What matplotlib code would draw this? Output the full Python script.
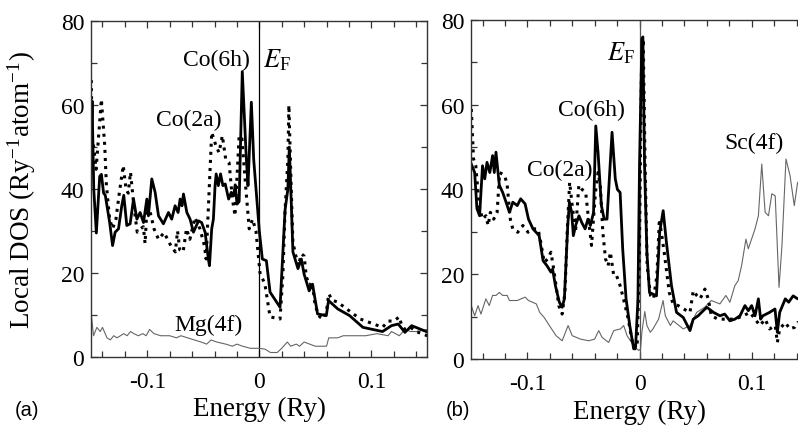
import matplotlib
matplotlib.use("Agg")
import matplotlib.pyplot as plt
from matplotlib.ticker import MultipleLocator

# ---- panel (a): Mg-based compound ----
a_co6h_e = [-0.150, -0.1493, -0.1478, -0.1455, -0.1425, -0.141, -0.139, -0.1375, -0.1336, -0.131,
            -0.1287, -0.1257, -0.1228, -0.121, -0.1183, -0.1153, -0.1123, -0.1093, -0.1064, -0.1034,
            -0.1004, -0.099, -0.096, -0.093, -0.090, -0.0856, -0.0811, -0.0782, -0.0752, -0.0725,
            -0.0707, -0.069, -0.0677, -0.0647, -0.0618, -0.0588, -0.0543, -0.0515, -0.0484, -0.0455,
            -0.0445, -0.0425, -0.041, -0.0395, -0.0385, -0.0366, -0.0346, -0.0325, -0.0304, -0.0274,
            -0.025, -0.0229, -0.0215, -0.0199, -0.018, -0.0152, -0.0116, -0.0101, -0.0071, -0.005,
            -0.0027, 0.0, 0.0027, 0.0063, 0.0096, 0.0185, 0.023, 0.0255, 0.0268, 0.0285,
            0.030, 0.0345, 0.0375, 0.040, 0.0445, 0.0475, 0.052, 0.0598, 0.0618, 0.070,
            0.0806, 0.0925, 0.110, 0.118, 0.124, 0.130, 0.136, 0.150]
a_co6h_dos = [52, 61, 40, 29.5, 43, 43.5, 39, 38.5, 32, 26.5,
              29.7, 30.5, 36, 38.5, 31.3, 31.7, 37.6, 32.8, 34.4, 32,
              37.6, 33.6, 42.4, 39.2, 33.6, 31.7, 34.4, 32.8, 36, 34.4,
              37.6, 36, 38.8, 34.4, 32.8, 29.7, 32.4, 32, 29.7, 23.3,
              21.7, 30.5, 32.8, 40.8, 43.6, 40.8, 43.6, 40.8, 41.2, 37.6,
              39.2, 38.4, 41, 36.4, 37, 68, 47.2, 40.8, 60.7, 47,
              39.2, 30, 23.3, 22.9, 15.4, 11.8, 35, 40, 50, 37,
              25, 21, 23.3, 19.7, 15.7, 17.3, 10.2, 9.8, 13.4, 11.4,
              9.8, 7.0, 6.0, 7.4, 7.8, 5.8, 7.4, 5.9]

a_co2a_e = [-0.150, -0.1493, -0.1478, -0.1457, -0.141, -0.138, -0.1365, -0.1336, -0.131, -0.128,
            -0.125, -0.1215, -0.119, -0.117, -0.115, -0.112, -0.109, -0.106, -0.1035, -0.102,
            -0.100, -0.097, -0.094, -0.090, -0.085, -0.079, -0.075, -0.073, -0.071, -0.068,
            -0.065, -0.062, -0.0575, -0.053, -0.049, -0.0475, -0.0446, -0.0425, -0.0387, -0.036,
            -0.033, -0.030, -0.027, -0.024, -0.0217, -0.018, -0.0155, -0.012, -0.009, -0.006,
            -0.003, 0.0006, 0.005, 0.0096, 0.0185, 0.021, 0.023, 0.0255, 0.0264, 0.0285,
            0.030, 0.0345, 0.0378, 0.040, 0.042, 0.045, 0.047, 0.050, 0.054, 0.057,
            0.060, 0.062, 0.065, 0.070, 0.080, 0.090, 0.100, 0.105, 0.110, 0.115,
            0.120, 0.125, 0.127, 0.130, 0.135, 0.140, 0.150]
a_co2a_dos = [66, 52, 50, 44.7, 61.4, 50.3, 40.8, 32.8, 30.5, 32.8,
              39, 45.6, 40, 39, 44, 36, 29.7, 30.5, 31, 27,
              37, 34, 30.5, 28, 29.6, 26.5, 25, 30, 25.5, 25,
              30.5, 28, 33.2, 30.5, 26.5, 23.3, 40.8, 53.5, 50.3, 48.7,
              52.7, 47.1, 46.3, 37.6, 33.6, 52.7, 52, 40, 30.5, 32.8,
              30, 20, 17.3, 9.5, 9, 19.3, 35, 47, 60, 40,
              27.3, 21.7, 24.5, 24, 19, 17, 18, 12, 9.5, 9,
              11, 15, 13.5, 13, 11, 9, 8, 7.5, 7, 8.5,
              8.5, 9.5, 7.5, 6.5, 7, 6, 5]

a_mg_e = [-0.150, -0.148, -0.145, -0.142, -0.140, -0.136, -0.133, -0.130, -0.127, -0.124,
          -0.121, -0.118, -0.115, -0.112, -0.108, -0.104, -0.101, -0.098, -0.094, -0.088,
          -0.080, -0.074, -0.070, -0.064, -0.058, -0.052, -0.047, -0.043, -0.038, -0.030,
          -0.024, -0.020, -0.015, -0.008, 0.0, 0.005, 0.010, 0.016, 0.020, 0.025,
          0.028, 0.033, 0.036, 0.040, 0.045, 0.050, 0.055, 0.060, 0.062, 0.070,
          0.075, 0.085, 0.095, 0.105, 0.115, 0.118, 0.125, 0.130, 0.135, 0.140, 0.150]
a_mg_dos = [10, 5, 7, 6, 7, 4.5, 4, 5, 4.5, 5,
            5.5, 5, 6, 5.5, 5, 5.5, 5, 6.5, 5.5, 5,
            5, 4.5, 5, 4.5, 4, 3.5, 3, 4, 3.5, 3,
            2.5, 3, 2.5, 2, 2, 1.8, 1, 1, 2, 3.5,
            2.5, 3, 2.5, 3.5, 3, 2.5, 2.5, 2.5, 4.5, 4.5,
            5, 5, 5, 5.5, 5, 6, 5, 6.5, 6, 6, 6.5]

# ---- panel (b): Sc-based compound ----
b_co6h_e = [-0.150, -0.147, -0.145, -0.1426, -0.140, -0.138, -0.136, -0.1335, -0.131, -0.1295,
            -0.128, -0.125, -0.122, -0.119, -0.116, -0.113, -0.109, -0.106, -0.102, -0.099,
            -0.095, -0.0895, -0.086, -0.0825, -0.079, -0.0775, -0.075, -0.0715, -0.069, -0.067,
            -0.064, -0.0625, -0.0605, -0.059, -0.057, -0.054, -0.0515, -0.0485, -0.046, -0.0438,
            -0.041, -0.039, -0.037, -0.034, -0.0315, -0.029, -0.0245, -0.0216, -0.0197, -0.0173,
            -0.015, -0.012, -0.0087, -0.0052, -0.0035, -0.0014, 0.0, 0.0021, 0.003, 0.0045,
            0.0066, 0.0089, 0.0121, 0.0151, 0.018, 0.0211, 0.024, 0.0285, 0.033, 0.039,
            0.045, 0.0479, 0.0523, 0.0553, 0.060, 0.066, 0.0717, 0.076, 0.0806, 0.085,
            0.0896, 0.094, 0.097, 0.100, 0.103, 0.106, 0.108, 0.110, 0.116, 0.1208,
            0.1229, 0.125, 0.130, 0.133, 0.137, 0.141, 0.150]
b_co6h_dos = [46, 44, 35.5, 33.8, 45.6, 42.5, 46.4, 44, 48, 44,
              48.8, 41, 39.3, 37, 34.6, 37, 36.2, 37.8, 36.6, 33,
              30.7, 29.1, 23.2, 22, 20.5, 21.2, 17.3, 13.4, 12.2, 14.2,
              31.5, 37, 34.6, 29.1, 31.5, 33.8, 32.2, 30.7, 33, 31.5,
              34.6, 55, 48.8, 36.2, 33, 33, 53.5, 42.5, 40, 39.3,
              26, 14.2, 7.9, 2.4, 2.8, 14, 45.6, 75.5, 76, 45.6,
              25, 15.7, 15.3, 14.9, 30, 35, 27.5, 17.3, 11, 9.8,
              6.7, 9.4, 10.2, 11, 12.2, 11, 10.2, 10.6, 9.0, 9.4,
              10.2, 12.6, 11.4, 12.6, 10.2, 14.2, 9.4, 10.2, 11, 11.8,
              6.3, 11, 14.2, 13.4, 14.9, 14.2, 14.5]

b_co2a_e = [-0.150, -0.148, -0.146, -0.143, -0.140, -0.137, -0.135, -0.133, -0.130, -0.127,
            -0.1247, -0.1202, -0.118, -0.1152, -0.113, -0.1086, -0.104, -0.0994, -0.095, -0.0905,
            -0.088, -0.085, -0.082, -0.079, -0.077, -0.0744, -0.072, -0.069, -0.0665, -0.0645,
            -0.0623, -0.060, -0.0571, -0.0541, -0.0512, -0.048, -0.0458, -0.0428, -0.0393, -0.037,
            -0.035, -0.0327, -0.0303, -0.028, -0.026, -0.023, -0.0205, -0.0173, -0.0143, -0.010,
            -0.007, -0.004, -0.002, -0.0003, 0.0018, 0.0033, 0.005, 0.0068, 0.0098, 0.0125,
            0.0155, 0.0176, 0.019, 0.022, 0.0265, 0.030, 0.0345, 0.042, 0.045, 0.0479,
            0.051, 0.054, 0.0583, 0.0613, 0.064, 0.070, 0.0777, 0.085, 0.0925, 0.0985,
            0.103, 0.1074, 0.112, 0.116, 0.121, 0.1229, 0.125, 0.130, 0.134, 0.1385,
            0.141, 0.150]
b_co2a_dos = [59, 47.2, 45.6, 36.2, 33, 33.8, 31.5, 34.6, 33, 34.6,
              44, 43.3, 41, 33, 30.7, 29.9, 31.5, 29.9, 30.7, 30.7,
              27.5, 22.8, 23.6, 25.2, 22, 17.3, 12.6, 10.6, 15.7, 29.9,
              41.7, 36.2, 29.9, 41, 40, 39.3, 33.8, 26.8, 39.3, 44,
              41, 29.9, 23.6, 22, 25.2, 19.7, 19.7, 17.3, 14.2, 9.4,
              4.7, 2.4, 3.9, 22, 69, 75.5, 45.6, 22, 15, 14.2,
              19.7, 32.2, 30.7, 25.2, 15.7, 13, 12.6, 11.4, 11, 16.1,
              15, 14.2, 16.5, 14.2, 10.2, 9.4, 9.4, 9.4, 10.2, 11,
              9.4, 7.9, 9.4, 7.1, 7.9, 3.9, 7.1, 8.6, 7.1, 7.5,
              8.6, 8.0]

b_sc_e = [-0.150, -0.147, -0.144, -0.1414, -0.137, -0.134, -0.131, -0.128, -0.125, -0.122,
          -0.118, -0.116, -0.109, -0.102, -0.099, -0.092, -0.089, -0.085, -0.0804, -0.0744,
          -0.069, -0.066, -0.0637, -0.060, -0.0527, -0.0452, -0.040, -0.0364, -0.0334, -0.0275,
          -0.023, -0.017, -0.0141, -0.0111, -0.0051, -0.0007, 0.001, 0.0021, 0.0047, 0.0066,
          0.0096, 0.012, 0.017, 0.021, 0.023, 0.0275, 0.030, 0.039, 0.045, 0.051,
          0.058, 0.064, 0.0717, 0.077, 0.0806, 0.085, 0.088, 0.091, 0.0949, 0.097,
          0.103, 0.106, 0.109, 0.112, 0.115, 0.118, 0.121, 0.1244, 0.127, 0.1306,
          0.1342, 0.138, 0.141, 0.150]
b_sc_dos = [12.6, 10.2, 12.6, 10.6, 14.2, 12.6, 15, 15, 15.7, 15,
            15, 13.8, 13.8, 14.6, 13.8, 13, 11, 9.8, 7.9, 5.5,
            4.3, 6.3, 7.9, 5.5, 4.7, 4.3, 4.7, 6.7, 5.1, 3.9,
            6.7, 7.1, 7.9, 5.5, 3.1, 2.0, 2.4, 6.3, 11.2, 7.9,
            6.3, 7.1, 9.4, 13.8, 10.2, 7.9, 9.0, 7.1, 7.9, 11,
            12.2, 13.8, 13, 15, 13.4, 17.3, 18.5, 22, 28.3, 26,
            30.7, 33.8, 46, 34.6, 33.8, 39, 38.5, 16.9, 26.7, 47.2,
            43.3, 36.2, 41.7, 40]

plt.rcParams['font.family'] = ['Liberation Serif', 'DejaVu Serif']
plt.rcParams['mathtext.fontset'] = 'stix'

fig = plt.figure(figsize=(7.98, 4.27), dpi=100)
ax_a = fig.add_axes([0.1144, 0.1623, 0.4211, 0.7855])
ax_b = fig.add_axes([0.5906, 0.1569, 0.4216, 0.7940])

spine_col = '#333333'
for ax in (ax_a, ax_b):
    ax.set_xlim(-0.15, 0.15)
    ax.set_ylim(0, 80)
    ax.xaxis.set_major_locator(MultipleLocator(0.1))
    ax.xaxis.set_minor_locator(MultipleLocator(0.02))
    ax.yaxis.set_major_locator(MultipleLocator(20))
    ax.yaxis.set_minor_locator(MultipleLocator(10))
    ax.tick_params(which='both', direction='in', top=True, right=True,
                   color=spine_col, width=0.9)
    ax.tick_params(which='major', length=5, labelsize=17, pad=5)
    ax.tick_params(which='minor', length=4)
    ax.tick_params(axis='x', which='major', pad=10)
    ax.set_xticks([-0.1, 0, 0.1])
    ax.set_xticklabels(['-0.1', '0', '0.1'])
    for s in ax.spines.values():
        s.set_color(spine_col)
        s.set_linewidth(1.0)
    ax.set_xlabel('Energy (Ry)', fontsize=19.5)
    # centre of the label about 52 px below the axis
    ax.xaxis.set_label_coords(0.5, -52.0 / (ax.get_position().height * 427))
    ax.xaxis.label.set_va('center')

# panel a curves
ax_a.axvline(0, color='black', lw=0.9)
ax_a.plot(a_mg_e, a_mg_dos, color='#666666', lw=0.8)
ax_a.plot(a_co2a_e, a_co2a_dos, color='black', lw=2.2, ls=':')
ax_a.plot(a_co6h_e, a_co6h_dos, color='black', lw=2.0)
ax_a.set_ylabel('Local DOS (Ry$^{\\mathregular{-1}}$atom$^{\\mathregular{-1}}$)', fontsize=19.5)
ax_a.yaxis.set_label_coords((22 - 91.3) / 336.0, 0.5)
ax_a.yaxis.label.set_va('center')
ax_a.text(-0.0380, 71, 'Co(6h)', fontsize=17, ha='center', va='center')
ax_a.text(0.016, 71, '$E_{\\mathregular{F}}$', fontsize=19, ha='center', va='center')
ax_a.text(-0.0630, 56.5, 'Co(2a)', fontsize=17, ha='center', va='center')
ax_a.text(-0.0450, 7.8, 'Mg(4f)', fontsize=17, ha='center', va='center')

# panel b curves
ax_b.axvline(0, color='#555555', lw=0.9)
ax_b.plot(b_sc_e, b_sc_dos, color='#666666', lw=0.8)
ax_b.plot(b_co2a_e, b_co2a_dos, color='black', lw=2.2, ls=':')
ax_b.plot(b_co6h_e, b_co6h_dos, color='black', lw=2.0)
ax_b.text(-0.0165, 72.5, '$E_{\\mathregular{F}}$', fontsize=19, ha='center', va='center')
ax_b.text(-0.0425, 59, 'Co(6h)', fontsize=17, ha='center', va='center')
ax_b.text(-0.0710, 44.8, 'Co(2a)', fontsize=17, ha='center', va='center')
ax_b.text(0.1025, 51, 'Sc(4f)', fontsize=17, ha='center', va='center')

fig.text(27 / 798, 1 - 411 / 427, '(a)', fontsize=14.5, family='Liberation Sans',
         ha='center', va='center')
fig.text(458 / 798, 1 - 411 / 427, '(b)', fontsize=14.5, family='Liberation Sans',
         ha='center', va='center')

fig.savefig('out.png', dpi=100)
